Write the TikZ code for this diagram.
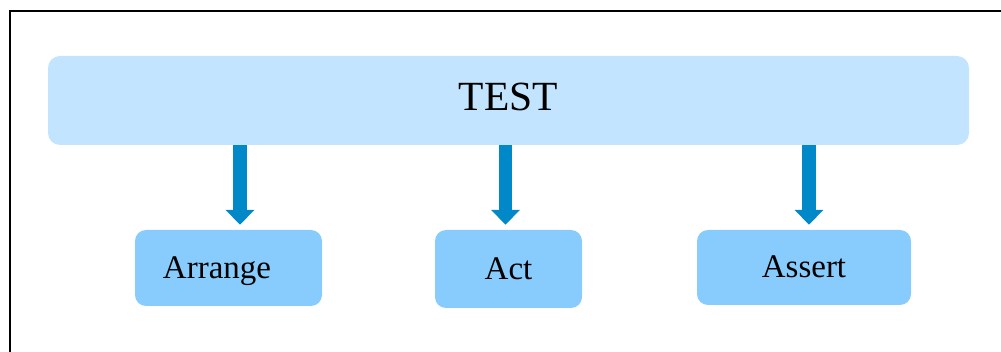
\documentclass[tikz,border=0pt]{standalone}
\usepackage{fontspec}
\setmainfont{Liberation Serif}
\usepackage{xcolor}
\usepackage{tikz}
\usetikzlibrary{arrows.meta, positioning}

\definecolor{testfill}{HTML}{C2E4FE}
\definecolor{stepfill}{HTML}{87CCFD}
\definecolor{flowblue}{HTML}{0088C8}

\begin{document}
\begin{tikzpicture}[
  x=1pt, y=-1pt,
  steptext/.style={font=\fontsize{33}{38}\selectfont, text height=22pt, text depth=1pt, inner sep=0pt},
  box/.style={steptext, fill=stepfill, rounded corners=11pt, minimum height=76pt},
  arrow/.style={-{Triangle[width=28pt, length=15pt]}, line width=13.5pt, flowblue, shorten >=5pt}
]
  \useasboundingbox (0,0) rectangle (1001,352);
  \draw[line width=2pt] (9.5,360) -- (9.5,11) -- (1010,11);

  \node[fill=testfill, rounded corners=12pt, minimum width=921pt, minimum height=89pt, inner sep=0pt, text depth=7pt, font=\fontsize{41.5}{48}\selectfont] (test) at (508.5,100.5) {TEST};
  \node[box, minimum width=187pt, label={[steptext, xshift=-11.5pt]center:Arrange}] (arrange) at (228.5,268) {};
  \node[box, minimum width=147pt, minimum height=78pt] (act) at (508.5,269) {Act};
  \node[box, minimum width=214pt, minimum height=75pt] (assert) at (804,267.5) {Assert};

  \draw[arrow] ([xshift=11.5pt]arrange.north |- test.south) -- ([xshift=11.5pt]arrange.north);
  \draw[arrow] ([xshift=-3pt]act.north |- test.south) -- ([xshift=-3pt]act.north);
  \draw[arrow] ([xshift=5pt]assert.north |- test.south) -- ([xshift=5pt]assert.north);
\end{tikzpicture}
\end{document}
